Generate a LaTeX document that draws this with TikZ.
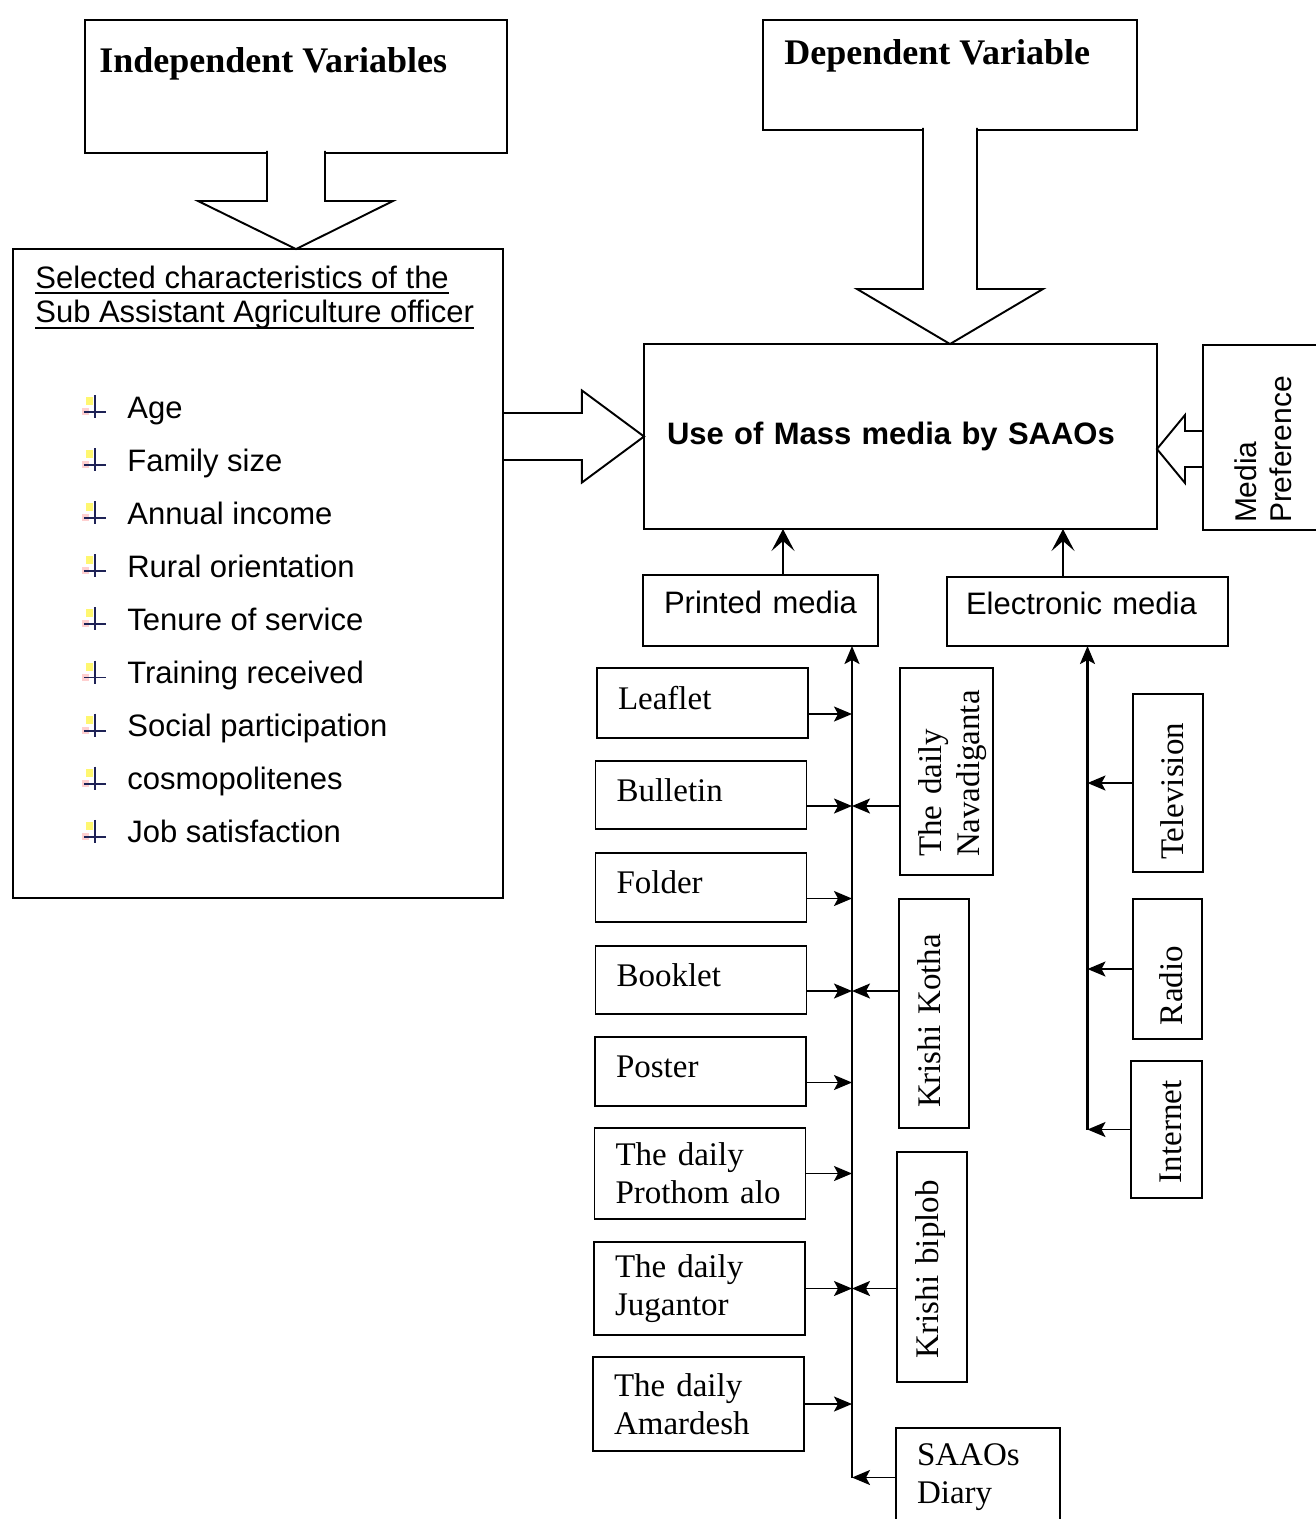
\documentclass[tikz,border=0pt]{standalone}
\usepackage{fontspec}
\setmainfont{Liberation Serif}
\newfontfamily\arialf{Liberation Sans}
\usetikzlibrary{arrows.meta,calc}
\definecolor{navyc}{HTML}{1E2256}
\newcommand\fsSerif{\fontsize{18.78pt}{21.62pt}\selectfont}
\newcommand\fsSans{\fontsize{17.64pt}{19.92pt}\selectfont}
\newcommand\fsTitle{\fontsize{20.49pt}{24pt}\selectfont}
\newcommand\fsMedia{\fontsize{17.07pt}{19.92pt}\selectfont}
\begin{document}
\begin{tikzpicture}[x=0.02cm, y=-0.02cm,
  box/.style={draw, line width=1.1pt, inner sep=0pt, outer sep=0pt},
  lbox/.style={box, font=\fsSerif, minimum width=4.22cm, text width=3.38cm, inner xsep=0.42cm, align=left},
  oneline/.style={text height=0.45cm, text depth=0.21cm},
  vbox/.style={box, rotate=90, align=left, font=\fsSerif},
  conn/.style={line width=1pt, -{Stealth[length=0.36cm,width=0.3cm,inset=0.08cm]}},
  bigup/.style={line width=1pt, -{Stealth[length=0.44cm,width=0.46cm,inset=0.2cm]}},
  blockarrow/.style={draw, line width=1.1pt, line join=miter},
  txt/.style={inner sep=0pt, anchor=base west},
  bulletmark/.pic={
    \fill[yellow!70, opacity=0.8] (-9,-21) rectangle (-2,-13);
    \fill[red!30, opacity=0.6] (-13,-10) rectangle (-6,-3);
    \draw[line width=1.4pt, draw=navyc] (0,-23) -- (0,0);
    \draw[line width=1.1pt, draw=navyc] (-11,-6) -- (11,-6);
  }
]
\path[use as bounding box, fill=white] (0,0) rectangle (1316,1519);

% top boxes
\node[box, minimum width=8.44cm, minimum height=2.66cm] (indep) at (296,86.5) {};
\node[txt, font=\bfseries\fsTitle] (indepT) at (99,72) {Independent Variables};
\node[box, minimum width=7.48cm, minimum height=2.2cm] (dep) at (950,75) {};
\node[txt, font=\bfseries\fsTitle] (depT) at (784,64) {Dependent Variable};

% characteristics box
\node[box, minimum width=9.8cm, minimum height=12.98cm] (sel) at (258,573.5) {};
\node[txt, font=\arialf\fsSans] (selA) at (35,288) {Selected characteristics of the};
\node[txt, font=\arialf\fsSans] (selB) at (35,322) {Sub Assistant Agriculture officer};
\draw[line width=0.8pt] ($(selA.base west)+(0,5)$) -- ($(selA.base east)+(0,5)$);
\draw[line width=0.8pt] ($(selB.base west)+(0,6)$) -- ($(selB.base east)+(0,6)$);
\foreach \t [count=\i] in {Age, Family size, Annual income, Rural orientation, Tenure of service, Training received, Social participation, cosmopolitenes, Job satisfaction}{
  \node[txt, font=\arialf\fsSans] (it\i) at (127,{418+(\i-1)*53.1}) {\t};
  \pic at (95,{418+(\i-1)*53.1}) {bulletmark};
}

% central box and media preference
\node[box, font=\arialf\bfseries\fsSans, align=left, text width=9.34cm, inner xsep=0.46cm, minimum height=3.7cm] (use) at (900.5,436.5) {Use of Mass media by SAAOs};
\node[box, rotate=90, align=left, font=\arialf\fsMedia, minimum width=3.7cm, minimum height=2.42cm, inner xsep=0.14cm, text width=3.42cm] (media) at (1263.5,437.5) {Media\\Preference};

% media groups
\node[box, font=\arialf\fsSans, align=left, text width=3.86cm, inner xsep=0.42cm, minimum height=1.42cm, text height=0.44cm, text depth=0.34cm] (printed) at (760.5,610.5) {Printed media};
\node[box, font=\arialf\fsSans, align=left, text width=4.86cm, inner xsep=0.38cm, minimum height=1.38cm, text height=0.44cm, text depth=0.34cm] (electronic) at (1087.5,611.5) {Electronic media};

% printed media items
\node[lbox, oneline, minimum height=1.4cm] (leaflet) at (702.5,703) {Leaflet};
\node[lbox, oneline, minimum height=1.36cm] (bulletin) at (701,795) {Bulletin};
\node[lbox, oneline, minimum height=1.38cm] (folder) at (701,887.5) {Folder};
\node[lbox, oneline, minimum height=1.36cm] (booklet) at (701,980) {Booklet};
\node[lbox, oneline, minimum height=1.38cm] (poster) at (700.5,1071.5) {Poster};
\node[lbox, minimum height=1.82cm] (prothom) at (700,1173.5) {The daily\\Prothom alo};
\node[lbox, minimum height=1.86cm] (jugantor) at (699.5,1288.5) {The daily\\Jugantor};
\node[lbox, minimum height=1.88cm] (amardesh) at (698.5,1404) {The daily\\Amardesh};

\node[vbox, minimum width=4.14cm, minimum height=1.86cm, inner xsep=0.36cm, text width=3.42cm, text height=0.72cm] (nav) at (946.5,771.5) {The daily\\Navadiganta};
\node[vbox, oneline, minimum width=4.58cm, minimum height=1.4cm, inner xsep=0.4cm, text width=3.78cm] (kk) at (934,1013.5) {Krishi Kotha};
\node[vbox, oneline, minimum width=4.6cm, minimum height=1.4cm, inner xsep=0.48cm, text width=3.64cm] (kb) at (932,1267) {Krishi biplob};
\node[box, font=\fsSerif, align=left, text width=2.44cm, inner xsep=0.42cm, minimum height=1.98cm] (saaos) at (978,1477.5) {SAAOs\\Diary};

% electronic media items
\node[vbox, minimum width=3.56cm, minimum height=1.4cm, inner xsep=0.24cm, text width=3.08cm, text height=0.6cm, text depth=0cm] (tv) at (1168,783) {Television};
\node[vbox, minimum width=2.8cm, minimum height=1.38cm, inner xsep=0.28cm, text width=2.24cm, text height=0.6cm, text depth=0cm] (radio) at (1167.5,969) {Radio};
\node[vbox, minimum width=2.74cm, minimum height=1.42cm, inner xsep=0.3cm, text width=2.14cm, text height=0.6cm, text depth=0cm] (internet) at (1166.5,1129.5) {Internet};

% block arrows
\path[blockarrow, fill=white] ($(indep.south)+(-29,-2)$) -- ($(indep.south)+(-29,48)$) -- ($(indep.south)+(-98,48)$) -- (indep.south |- sel.north) -- ($(indep.south)+(97,48)$) -- ($(indep.south)+(29,48)$) -- ($(indep.south)+(29,-2)$);
\path[blockarrow, fill=white] ($(dep.south)+(-27,-2)$) -- ($(dep.south)+(-27,159)$) -- ($(dep.south)+(-93,159)$) -- (dep.south |- use.north) -- ($(dep.south)+(93,159)$) -- ($(dep.south)+(27,159)$) -- ($(dep.south)+(27,-2)$);
\coordinate (la) at (sel.east |- use.west);
\path[blockarrow] ($(la)+(0,-23.5)$) -- ($(la)+(79,-23.5)$) -- ($(la)+(79,-46)$) -- (use.west) -- ($(la)+(79,46)$) -- ($(la)+(79,23.5)$) -- ($(la)+(0,23.5)$);
\coordinate (ma) at ($(media.north)+(0,11.5)$);
\path[blockarrow] ($(ma)+(0,-18)$) -- ($(ma)+(-18,-18)$) -- ($(ma)+(-18,-34)$) -- (use.east |- ma) -- ($(ma)+(-18,34)$) -- ($(ma)+(-18,18)$) -- ($(ma)+(0,18)$);

% up arrows to central box
\coordinate (pu) at ($(printed.north)+(22.5,0)$);
\draw[bigup] (pu) -- (pu |- use.south);
\coordinate (eu) at ($(electronic.north)+(-24.5,0)$);
\draw[bigup] (eu) -- (eu |- use.south);

% printed media bus
\coordinate (pbtop) at ($(printed.south)+(91.5,0)$);
\draw[conn, line width=1.3pt] (pbtop |- saaos.west) -- (pbtop);
\foreach \b in {leaflet,bulletin,folder,booklet,poster}{
  \path ($(\b.east)+(0,11)$) coordinate (\b-a);
  \draw[conn] (\b-a) -- (\b-a -| pbtop);
}
\foreach \b in {prothom,jugantor,amardesh}{
  \draw[conn] (\b.east) -- (\b.east -| pbtop);
}
\draw[conn] (nav.north |- bulletin-a) -- (bulletin-a -| pbtop);
\draw[conn] (kk.north |- booklet-a) -- (booklet-a -| pbtop);
\draw[conn] (kb.north |- jugantor.east) -- (jugantor.east -| pbtop);
\draw[conn] (saaos.west) -- (saaos.west -| pbtop);

% electronic media bus
\draw[conn, line width=1.3pt] (electronic.south |- internet.north) -- (electronic.south);
\foreach \b in {tv,radio,internet}{
  \draw[conn] (\b.north) -- (\b.north -| electronic.south);
}
\end{tikzpicture}
\end{document}
